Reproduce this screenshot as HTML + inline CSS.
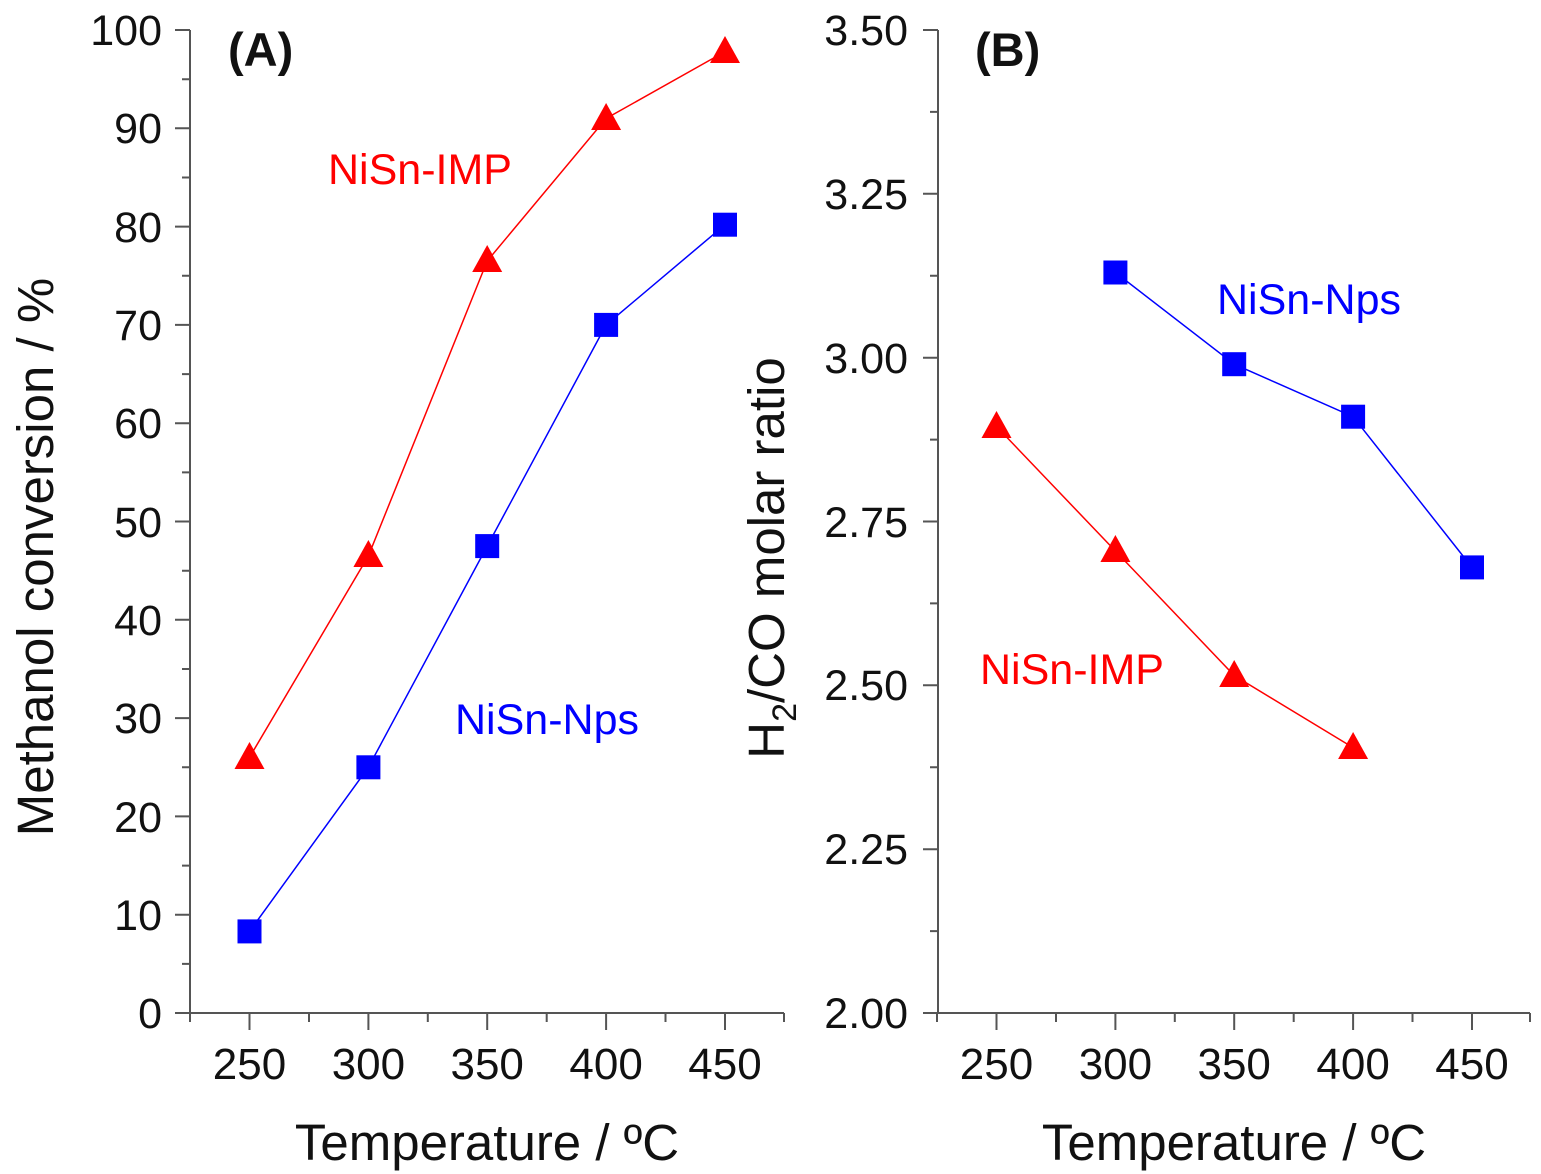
<!DOCTYPE html>
<html><head><meta charset="utf-8"><style>body{margin:0;background:#fff}svg{display:block}</style></head>
<body>
<svg width="1541" height="1174" viewBox="0 0 1541 1174" xmlns="http://www.w3.org/2000/svg" font-family="Liberation Sans, Arial, sans-serif">
<g stroke="#555" stroke-width="2" fill="none">
<path d="M190 30 V1013 H784"/>
<path d="M175 30H190M175 128.3H190M175 226.6H190M175 324.9H190M175 423.2H190M175 521.5H190M175 619.8H190M175 718.1H190M175 816.4H190M175 914.7H190M175 1013H190"/>
<path d="M182 79.2H190M182 177.5H190M182 275.8H190M182 374.1H190M182 472.4H190M182 570.7H190M182 669H190M182 767.3H190M182 865.6H190M182 963.9H190"/>
<path d="M249.5 1013V1030M368.4 1013V1030M487.2 1013V1030M606.1 1013V1030M725 1013V1030"/>
<path d="M190 1013V1022M309 1013V1022M427.8 1013V1022M546.7 1013V1022M665.5 1013V1022M784 1013V1022"/>
<path d="M938 30 V1013 H1530"/>
<path d="M923 30H938M923 193.8H938M923 357.7H938M923 521.5H938M923 685.3H938M923 849.2H938M923 1013H938"/>
<path d="M930 111.9H938M930 275.8H938M930 439.6H938M930 603.4H938M930 767.3H938M930 931.1H938"/>
<path d="M996.5 1013V1030M1115.4 1013V1030M1234.2 1013V1030M1353.1 1013V1030M1472 1013V1030"/>
<path d="M937 1013V1022M1056 1013V1022M1174.8 1013V1022M1293.7 1013V1022M1412.5 1013V1022M1530 1013V1022"/>
</g>
<g font-size="43" fill="#111" text-anchor="end">
<text x="162" y="45">100</text><text x="162" y="143">90</text><text x="162" y="242">80</text><text x="162" y="340">70</text><text x="162" y="438">60</text><text x="162" y="537">50</text><text x="162" y="635">40</text><text x="162" y="733">30</text><text x="162" y="832">20</text><text x="162" y="930">10</text><text x="162" y="1028">0</text>
<text x="908" y="45">3.50</text><text x="908" y="209">3.25</text><text x="908" y="373">3.00</text><text x="908" y="537">2.75</text><text x="908" y="700">2.50</text><text x="908" y="864">2.25</text><text x="908" y="1028">2.00</text>
</g>
<g font-size="44" fill="#111" text-anchor="middle">
<text x="249.5" y="1079">250</text><text x="368.4" y="1079">300</text><text x="487.2" y="1079">350</text><text x="606.1" y="1079">400</text><text x="725" y="1079">450</text>
<text x="996.5" y="1079">250</text><text x="1115.4" y="1079">300</text><text x="1234.2" y="1079">350</text><text x="1353.1" y="1079">400</text><text x="1472" y="1079">450</text>
<text x="487" y="1160" font-size="51">Temperature / ºC</text>
<text x="1234" y="1160" font-size="51">Temperature / ºC</text>
<text transform="translate(53 557) rotate(-90)" font-size="51">Methanol conversion / %</text>
<text transform="translate(784 558) rotate(-90)" font-size="51">H<tspan font-size="34" dy="12">2</tspan><tspan dy="-12">/CO molar ratio</tspan></text>
</g>
<g font-size="47" font-weight="bold" fill="#111">
<text x="228" y="66">(A)</text><text x="975" y="66">(B)</text>
</g>
<g font-size="43">
<text x="328" y="184" fill="#f00">NiSn-IMP</text>
<text x="455" y="734" fill="#00f">NiSn-Nps</text>
<text x="1217" y="314" fill="#00f">NiSn-Nps</text>
<text x="980" y="684" fill="#f00">NiSn-IMP</text>
</g>
<polyline fill="none" stroke="#f00" stroke-width="1.5" points="249.5,757.4 368.4,555.9 487.2,261 606.1,118.5 725,51.6"/>
<polyline fill="none" stroke="#00f" stroke-width="1.5" points="249.5,931.4 368.4,767.3 487.2,546.1 606.1,324.9 725,224.7"/>
<g fill="#f00">
<path d="M249.5 742l15 27h-30z"/><path d="M368.4 540l15 27h-30z"/><path d="M487.2 245l15 27h-30z"/><path d="M606.1 103l15 27h-30z"/><path d="M725 36l15 27h-30z"/>
</g>
<g fill="#00f">
<rect x="237.5" y="919.4" width="24" height="24"/><rect x="356.4" y="755.3" width="24" height="24"/><rect x="475.2" y="534.1" width="24" height="24"/><rect x="594.1" y="312.9" width="24" height="24"/><rect x="713" y="212.7" width="24" height="24"/>
</g>
<polyline fill="none" stroke="#00f" stroke-width="1.5" points="1115.4,272.5 1234.2,364.2 1353.1,416.7 1472,567.4"/>
<polyline fill="none" stroke="#f00" stroke-width="1.5" points="996.5,426.5 1115.4,551 1234.2,675.5 1353.1,747.6"/>
<g fill="#00f">
<rect x="1103.4" y="260.5" width="24" height="24"/><rect x="1222.2" y="352.2" width="24" height="24"/><rect x="1341.1" y="404.7" width="24" height="24"/><rect x="1460" y="555.4" width="24" height="24"/>
</g>
<g fill="#f00">
<path d="M996.5 411l15 27h-30z"/><path d="M1115.4 535l15 27h-30z"/><path d="M1234.2 660l15 27h-30z"/><path d="M1353.1 732l15 27h-30z"/>
</g>
</svg>
</body></html>
